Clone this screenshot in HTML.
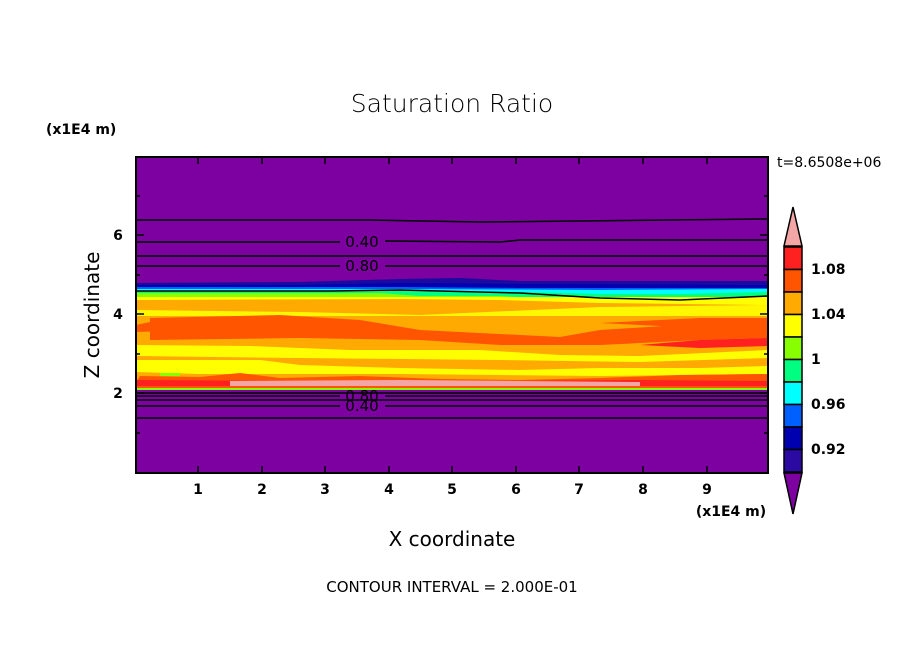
<!DOCTYPE html>
<html><head><meta charset="utf-8"><style>
html,body{margin:0;padding:0;background:#fff;}
svg{display:block;font-family:"DejaVu Sans","Liberation Sans",sans-serif;}
</style></head><body>
<svg width="904" height="654" viewBox="0 0 904 654" xmlns="http://www.w3.org/2000/svg">
<rect width="904" height="654" fill="#fff"/>
<text x="452" y="112" font-size="25" text-anchor="middle" fill="#000" font-weight="300">Saturation Ratio</text>
<text x="46" y="134" font-size="14" fill="#000" font-weight="bold">(x1E4 m)</text>
<text x="777" y="167" font-size="14" fill="#000">t=8.6508e+06</text>
<defs><clipPath id="c"><rect x="136" y="157" width="632" height="316"/></clipPath></defs>
<g clip-path="url(#c)">
<rect x="136" y="157" width="632" height="316" fill="#7d00a0"/>
<path d="M136 283 L300 282 L400 279 L460 278 L520 281 L768 281 L768 296 L136 296Z" fill="#1a0aa0"/>
<path d="M136 285 L300 285 L400 283 L520 284 L768 285 L768 296 L136 296Z" fill="#0000b0"/>
<path d="M136 287 L400 287 L520 288 L768 288 L768 296 L136 296Z" fill="#0060ff"/>
<path d="M136 289 L400 289 L600 290 L768 289 L768 298 L136 298Z" fill="#00ffff"/>
<path d="M136 291 L330 291 L400 290 L520 292 L600 294 L680 294 L768 292 L768 305 L136 305Z" fill="#00ff80"/>
<path d="M136 293 L380 293 L420 296 L500 296 L560 300 L620 300 L680 303 L768 302 L768 310 L136 310Z" fill="#88ff00"/>
<rect x="136" y="297" width="632" height="90" fill="#ffaa00"/>
<path d="M136 297 L768 297 L768 305 L600 303 L500 300 L400 299 L136 300Z" fill="#ffff00"/>
<path d="M136 310 L300 312 L420 315 L600 307 L768 305 L768 316 L136 316Z" fill="#ffff00" opacity="0.9"/>
<path d="M150 318 L280 315 L360 320 L420 330 L560 337 L600 330 L680 325 L768 322 L768 338 L700 340 L600 345 L500 345 L420 340 L300 338 L150 340Z" fill="#ff5500"/>
<path d="M136 325 L150 322 L200 330 L136 332Z" fill="#ff5500"/>
<path d="M600 323 L700 318 L768 318 L768 326 L680 327Z" fill="#ff5500"/>
<path d="M136 345 L250 346 L350 350 L480 350 L560 355 L640 356 L768 350 L768 358 L640 362 L500 360 L300 358 L136 356Z" fill="#ffff00"/>
<path d="M136 360 L260 360 L300 365 L400 368 L520 370 L600 368 L700 368 L768 366 L768 374 L600 376 L400 374 L200 374 L136 372Z" fill="#ffff00"/>
<path d="M140 376 L200 377 L240 373 L280 378 L360 376 L440 379 L520 380 L600 378 L680 375 L768 374 L768 382 L136 382Z" fill="#ff5500"/>
<path d="M640 345 L700 340 L768 338 L768 346 L700 348Z" fill="#ff2020"/>
<path d="M136 380 L300 381 L400 382 L500 381 L640 380 L768 381 L768 387 L136 387Z" fill="#ff2020"/>
<path d="M230 381 L400 380 L520 381 L640 382 L640 386 L230 386Z" fill="#f4a6a6"/>
<rect x="136" y="386" width="632" height="2" fill="#ff5500"/>
<rect x="136" y="388" width="632" height="2" fill="#88ff00"/>
<rect x="136" y="390" width="632" height="83" fill="#7d00a0"/>
<rect x="160" y="373" width="20" height="3" fill="#88ff00"/>
<g stroke="#000" fill="none" stroke-width="1.5">
<path d="M136 220 L370 220 L480 222 L768 219"/>
<path d="M136 242 L340 242 M385 241 L500 242 L520 240 L768 240"/>
<path d="M136 256 L768 256"/>
<path d="M136 266 L340 266 M385 266 L768 266"/>
<path d="M136 393 L768 393"/>
<path d="M136 396 L340 396 M385 396 L768 396"/>
<path d="M136 400 L768 400"/>
<path d="M136 406 L340 406 M385 406 L768 406"/>
<path d="M136 418 L768 418"/>
<path d="M136 291 L330 291 L400 290 L520 293 L600 298 L680 300 L768 296"/>
</g>
<g font-size="15" fill="#000" text-anchor="middle">
<text x="362" y="247">0.40</text>
<text x="362" y="271">0.80</text>
<text x="362" y="401">0.80</text>
<text x="362" y="411">0.40</text>
</g>
</g>
<rect x="136" y="157" width="632" height="316" fill="none" stroke="#000" stroke-width="2"/>
<g stroke="#000" stroke-width="1.5">
<path d="M198 473v-7M262 473v-7M325 473v-7M389 473v-7M452 473v-7M516 473v-7M579 473v-7M643 473v-7M707 473v-7"/>
<path d="M198 157v7M262 157v7M325 157v7M389 157v7M452 157v7M516 157v7M579 157v7M643 157v7M707 157v7"/>
<path d="M136 393h8M136 314h8M136 235h8M768 393h-8M768 314h-8M768 235h-8"/>
<path d="M136 433h4M136 354h4M136 275h4M136 196h4M768 433h-4M768 354h-4M768 275h-4M768 196h-4"/>
</g>
<g font-size="14" fill="#000" text-anchor="middle" font-weight="bold">
<text x="198" y="494">1</text><text x="262" y="494">2</text><text x="325" y="494">3</text>
<text x="389" y="494">4</text><text x="452" y="494">5</text><text x="516" y="494">6</text>
<text x="579" y="494">7</text><text x="643" y="494">8</text><text x="707" y="494">9</text>
<text x="118" y="398">2</text><text x="118" y="319">4</text><text x="118" y="240">6</text>
</g>
<text x="731" y="516" font-size="14" text-anchor="middle" font-weight="bold">(x1E4 m)</text>
<text x="452" y="546" font-size="20" text-anchor="middle">X coordinate</text>
<text transform="translate(99,315) rotate(-90)" font-size="20" text-anchor="middle">Z coordinate</text>
<text x="452" y="592" font-size="15" text-anchor="middle">CONTOUR INTERVAL = 2.000E-01</text>
<g stroke="#000" stroke-width="1.5">
<path d="M793 207 L802 246 L784 246Z" fill="#f4a6a6"/>
<rect x="784" y="247" width="18" height="22.5" fill="#ff2020"/>
<rect x="784" y="269.5" width="18" height="22.5" fill="#ff5500"/>
<rect x="784" y="292" width="18" height="22.5" fill="#ffaa00"/>
<rect x="784" y="314.5" width="18" height="22.5" fill="#ffff00"/>
<rect x="784" y="337" width="18" height="22.5" fill="#88ff00"/>
<rect x="784" y="359.5" width="18" height="22.5" fill="#00ff80"/>
<rect x="784" y="382" width="18" height="22.5" fill="#00ffff"/>
<rect x="784" y="404.5" width="18" height="22.5" fill="#0060ff"/>
<rect x="784" y="427" width="18" height="22.5" fill="#0000b0"/>
<rect x="784" y="449.5" width="18" height="22.5" fill="#2a0aa0"/>
<path d="M784 473 L802 473 L793 514Z" fill="#7d00a0"/>
</g>
<g font-size="14" fill="#000" font-weight="bold">
<text x="811" y="274">1.08</text><text x="811" y="319">1.04</text><text x="811" y="364">1</text>
<text x="811" y="409">0.96</text><text x="811" y="454">0.92</text>
</g>
</svg>
</body></html>
